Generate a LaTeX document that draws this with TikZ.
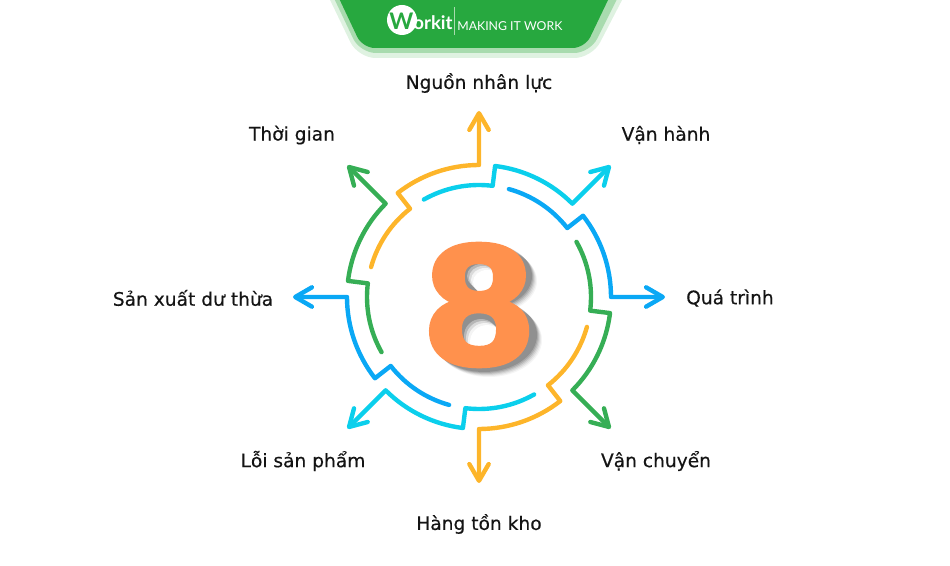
\documentclass[tikz,border=0pt]{standalone}
\usepackage{fontspec}
\setmainfont[FakeBold=0.4]{DejaVu Sans}
\newfontfamily\logofont{Lato}
\newfontfamily\eightfont[FakeBold=3.5, FakeStretch=1.12]{Liberation Sans Bold}
\usetikzlibrary{arrows.meta,shapes.geometric}

\definecolor{armYellow}{HTML}{FDB52A}
\definecolor{armCyan}{HTML}{0BCFEC}
\definecolor{armBlue}{HTML}{0AA8F5}
\definecolor{armGreen}{HTML}{36AE55}
\definecolor{eightOrange}{HTML}{FF914D}
\definecolor{bannerGreen}{HTML}{27A83F}
\definecolor{bannerMid}{HTML}{A8DBAE}
\definecolor{bannerPale}{HTML}{DFF2E1}

\begin{document}
\begin{tikzpicture}[
  x=0.02cm, y=0.02cm,
  armline/.style={line width=2.5pt, line cap=round, line join=round,
    -{Straight Barb[length=9.5pt, width=11pt, round]}},
  wheelarm/.pic={
    \draw[armline] (164.5:112) arc[start angle=164.5, end angle=128, radius=112]
      -- (128:132) arc[start angle=128, end angle=90, radius=132] -- (90:186);
  },
  eightlobes/.pic={
    \fill (0,32) ellipse [x radius=48, y radius=33] (0,-27) ellipse [x radius=53, y radius=37];
  },
  eightholes/.pic={
    \fill (0,31) ellipse [x radius=14, y radius=12] (0,-29) ellipse [x radius=17, y radius=17];
  },
  waste/.style={text=black!92, font=\fontsize{10.6}{13}\selectfont}
  ]
\useasboundingbox (0,0) rectangle (950,565);

% banner
\fill[bannerPale, rounded corners=10pt] (318,590) -- (358,507) -- (592,507) -- (635,590) -- cycle;
\fill[bannerMid, rounded corners=9pt] (323,590) -- (360,512) -- (590,512) -- (629,590) -- cycle;
\fill[bannerGreen, rounded corners=7pt] (328,590) -- (362.5,517) -- (585,517) -- (620,590) -- cycle;
\fill[white] (402,545) circle (15);
\node[text=white, font=\logofont\bfseries\fontsize{10.6}{12}\selectfont, anchor=west, inner sep=0pt] (logo)
  at (389,544) {\textcolor{bannerGreen}{\fontsize{13}{12}\selectfont W}orkit};
\draw[bannerMid, line width=0.5pt] (454,530) -- (454,558);
\node[text=white, font=\logofont\fontsize{7}{9}\selectfont, anchor=west, inner sep=0pt] (slogan)
  at (457,539) {MAKING IT WORK};

% the wheel
\coordinate (wheel) at (479,268);
\pic (armTop) [color=armYellow] at (wheel) {wheelarm};
\pic (armNE) [color=armCyan, rotate=-45] at (wheel) {wheelarm};
\pic (armE) [color=armBlue, rotate=-90] at (wheel) {wheelarm};
\pic (armSE) [color=armGreen, rotate=-135] at (wheel) {wheelarm};
\pic (armS) [color=armYellow, rotate=180] at (wheel) {wheelarm};
\pic (armSW) [color=armCyan, rotate=135] at (wheel) {wheelarm};
\pic (armW) [color=armBlue, rotate=90] at (wheel) {wheelarm};
\pic (armNW) [color=armGreen, rotate=45] at (wheel) {wheelarm};

% soft shadow behind the number
\coordinate (eightc) at (479,260);
\pic (lobeA) [black, opacity=0.04] at ([shift={(10,-8)}]eightc) {eightlobes};
\pic (lobeB) [black, opacity=0.06] at ([shift={(9,-7)}]eightc) {eightlobes};
\pic (lobeC) [black, opacity=0.08] at ([shift={(8,-6)}]eightc) {eightlobes};
\pic (lobeD) [black, opacity=0.1] at ([shift={(7,-5)}]eightc) {eightlobes};
\pic (lobeE) [black, opacity=0.12] at ([shift={(6,-4)}]eightc) {eightlobes};
\pic (lobeF) [black, opacity=0.14] at ([shift={(5,-3)}]eightc) {eightlobes};
\pic (holeA) [white, opacity=0.35] at ([shift={(2,-2)}]eightc) {eightholes};
\pic (holeB) [white, opacity=0.5] at ([shift={(4,-4)}]eightc) {eightholes};
\pic (holeC) [white, opacity=0.7] at ([shift={(6,-6)}]eightc) {eightholes};
\pic (holeD) [white] at ([shift={(8,-8)}]eightc) {eightholes};

% the big number
\node[text=eightOrange, font=\eightfont\fontsize{97}{97}\selectfont, inner sep=0pt] (eight) at (eightc) {8};

% labels
\node[waste] (resource) at (479,482) {Nguồn nhân lực};
\node[waste] (operation) at (666,430) {Vận hành};
\node[waste] (process) at (730,267) {Quá trình};
\node[waste] (transport) at (656,104) {Vận chuyển};
\node[waste] (inventory) at (479,41) {Hàng tồn kho};
\node[waste] (defect) at (303,104) {Lỗi sản phẩm};
\node[waste] (overprod) at (193,267) {Sản xuất dư thừa};
\node[waste] (waiting) at (292,430) {Thời gian};
\end{tikzpicture}
\end{document}
